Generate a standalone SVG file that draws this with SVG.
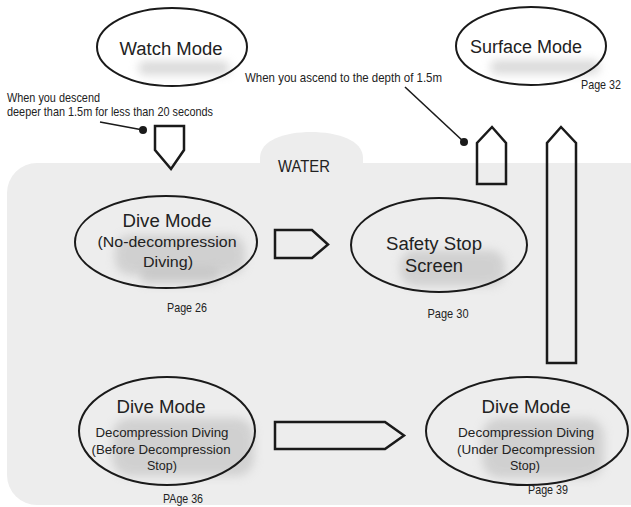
<svg xmlns="http://www.w3.org/2000/svg" width="631" height="507" viewBox="0 0 631 507">
<style>
.node{fill:none;stroke:#1a1a1a;stroke-width:2}
.arr{fill:none;stroke:#1a1a1a;stroke-width:2.5;stroke-linejoin:miter}
.big{font-family:"Liberation Sans",Arial,sans-serif;font-size:18px;fill:#222;text-anchor:middle}
.sub{font-family:"Liberation Sans",Arial,sans-serif;font-size:15.5px;fill:#222;text-anchor:middle}
.sub2{font-family:"Liberation Sans",Arial,sans-serif;font-size:13.5px;fill:#222;text-anchor:middle}
.lbl{font-family:"Liberation Sans Narrow","Liberation Sans",Arial,sans-serif;font-size:13.5px;fill:#222}
.blob{fill:#b5b5b5;opacity:0.5;filter:url(#blur)}
.call{stroke:#1a1a1a;stroke-width:1.6}
</style>
<defs>
<filter id="blur" x="-30%" y="-60%" width="160%" height="220%"><feGaussianBlur stdDeviation="5"/></filter>
</defs>
<rect width="631" height="507" fill="#ffffff"/>
<g id="water">
<rect x="7" y="163" width="660" height="342" rx="30" ry="30" fill="#ededed"/>
<path d="M260,164 L260,158 C260,140 285,132 311,132 C337,132 363,140 363,158 L363,164 Z" fill="#ededed"/>
<text x="304" y="172" font-family="Liberation Sans, Arial, sans-serif" font-size="16.5" fill="#222" text-anchor="middle" textLength="52" lengthAdjust="spacingAndGlyphs">WATER</text>
</g>
<g id="blobs">
<rect class="blob" x="138" y="61" width="92" height="14" rx="7"/>
<rect class="blob" x="490" y="60" width="110" height="14" rx="7"/>
<rect class="blob" x="115" y="235" width="130" height="40" rx="15"/>
<rect class="blob" x="140" y="268" width="80" height="16" rx="8"/>
<rect class="blob" x="400" y="250" width="105" height="36" rx="15"/>
<rect class="blob" x="112" y="418" width="142" height="58" rx="18"/>
<rect class="blob" x="482" y="418" width="122" height="60" rx="18"/>
</g>
<g id="watch-mode">
<ellipse class="node" cx="172" cy="47" rx="75" ry="39"/>
<text class="big" x="171" y="55" textLength="103" lengthAdjust="spacingAndGlyphs">Watch Mode</text>
</g>
<g id="surface-mode">
<ellipse class="node" cx="531" cy="46" rx="75" ry="39"/>
<text class="big" x="526" y="53" textLength="112" lengthAdjust="spacingAndGlyphs">Surface Mode</text>
<text class="lbl" x="581" y="89" textLength="40" lengthAdjust="spacingAndGlyphs">Page 32</text>
</g>
<g id="dive-nodecomp">
<ellipse class="node" cx="166" cy="242" rx="91" ry="46"/>
<text class="big" x="167" y="227" textLength="89" lengthAdjust="spacingAndGlyphs">Dive Mode</text>
<text class="sub" x="167" y="247" textLength="139" lengthAdjust="spacingAndGlyphs">(No-decompression</text>
<text class="sub" x="168" y="267" textLength="50" lengthAdjust="spacingAndGlyphs">Diving)</text>
<text class="lbl" x="187" y="312" text-anchor="middle" textLength="40" lengthAdjust="spacingAndGlyphs">Page 26</text>
</g>
<g id="safety-stop">
<ellipse class="node" cx="439" cy="245" rx="88" ry="47"/>
<text class="big" x="434" y="250" textLength="96" lengthAdjust="spacingAndGlyphs">Safety Stop</text>
<text class="big" x="434" y="272" textLength="58" lengthAdjust="spacingAndGlyphs">Screen</text>
<text class="lbl" x="448" y="318" text-anchor="middle" textLength="41" lengthAdjust="spacingAndGlyphs">Page 30</text>
</g>
<g id="dive-before">
<ellipse class="node" cx="167" cy="431" rx="88" ry="54"/>
<text class="big" x="161" y="413" textLength="89" lengthAdjust="spacingAndGlyphs">Dive Mode</text>
<text class="sub2" x="162" y="437" textLength="133" lengthAdjust="spacingAndGlyphs">Decompression Diving</text>
<text class="sub2" x="161" y="454" textLength="139" lengthAdjust="spacingAndGlyphs">(Before Decompression</text>
<text class="sub2" x="162" y="470" textLength="30" lengthAdjust="spacingAndGlyphs">Stop)</text>
<text class="lbl" x="183" y="503" text-anchor="middle" textLength="40" lengthAdjust="spacingAndGlyphs">PAge 36</text>
</g>
<g id="dive-under">
<ellipse class="node" cx="527" cy="431" rx="101" ry="54"/>
<text class="big" x="526" y="413" textLength="89" lengthAdjust="spacingAndGlyphs">Dive Mode</text>
<text class="sub2" x="526" y="437" textLength="136" lengthAdjust="spacingAndGlyphs">Decompression Diving</text>
<text class="sub2" x="526" y="454" textLength="138" lengthAdjust="spacingAndGlyphs">(Under Decompression</text>
<text class="sub2" x="525" y="470" textLength="30" lengthAdjust="spacingAndGlyphs">Stop)</text>
<text class="lbl" x="548" y="494" text-anchor="middle" textLength="40" lengthAdjust="spacingAndGlyphs">Page 39</text>
</g>
<g id="connectors">
<polygon class="arr" points="155,126 184,126 184,150 171,169 155,150"/>
<polygon class="arr" points="477,184 477,143 492,127 506,143 506,184"/>
<polygon class="arr" points="547,363 547,143 561,127 576,143 576,363"/>
<polygon class="arr" points="275,230 312,230 328,244.5 312,258 275,258"/>
<polygon class="arr" points="275,422 385,422 404,435.5 385,449 275,449"/>
<line class="call" x1="100" y1="122" x2="143" y2="130"/>
<circle cx="143" cy="130" r="4" fill="#1a1a1a"/>
<line class="call" x1="405" y1="87" x2="464" y2="142"/>
<circle cx="464" cy="142" r="4" fill="#1a1a1a"/>
<text class="lbl" x="7" y="102" textLength="93" lengthAdjust="spacingAndGlyphs">When you descend</text>
<text class="lbl" x="7" y="116" textLength="206" lengthAdjust="spacingAndGlyphs">deeper than 1.5m for less than 20 seconds</text>
<text class="lbl" x="245" y="82" textLength="197" lengthAdjust="spacingAndGlyphs">When you ascend to the depth of 1.5m</text>
</g>
</svg>
